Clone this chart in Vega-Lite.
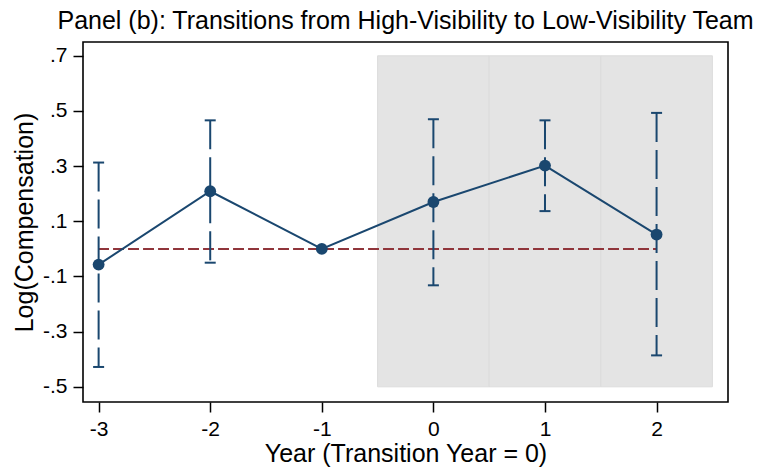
{
  "$schema": "https://vega.github.io/schema/vega-lite/v6.json",
  "width": 645,
  "height": 360,
  "autosize": {"type": "none"},
  "padding": {"left": 83, "top": 42, "right": 31, "bottom": 68},
  "background": "white",
  "title": {
    "text": "Panel (b): Transitions from High-Visibility to Low-Visibility Team",
    "font": "Liberation Sans",
    "fontSize": 25,
    "fontWeight": "normal",
    "color": "black",
    "anchor": "middle",
    "offset": 8
  },
  "config": {
    "view": {"stroke": "black", "strokeWidth": 1.6},
    "axis": {
      "labelFont": "Liberation Sans",
      "titleFont": "Liberation Sans",
      "labelFontSize": 21,
      "titleFontSize": 25,
      "titleFontWeight": "normal",
      "labelColor": "black",
      "titleColor": "black",
      "tickColor": "black",
      "tickWidth": 1.5,
      "tickSize": 10,
      "grid": false,
      "domain": false
    }
  },
  "datasets": {
    "est": [
      {"year": -3, "b": -0.057, "lo": -0.428, "hi": 0.313},
      {"year": -2, "b": 0.209, "lo": -0.050, "hi": 0.466},
      {"year": -1, "b": 0.0, "lo": null, "hi": null},
      {"year": 0, "b": 0.170, "lo": -0.132, "hi": 0.470},
      {"year": 1, "b": 0.302, "lo": 0.137, "hi": 0.466},
      {"year": 2, "b": 0.052, "lo": -0.386, "hi": 0.493}
    ],
    "bands": [
      {"start": -0.5, "end": 0.5},
      {"start": 0.5, "end": 1.5},
      {"start": 1.5, "end": 2.5}
    ]
  },
  "layer": [
    {
      "data": {"name": "bands"},
      "mark": {"type": "rect", "fill": "#e4e4e4", "stroke": "#dcdcdc", "strokeWidth": 1},
      "encoding": {
        "x": {"field": "start", "type": "quantitative",
          "scale": {"domain": [-3.14, 2.64], "nice": false, "zero": false},
          "axis": {"values": [-3, -2, -1, 0, 1, 2], "labelExpr": "toString(datum.value)", "title": "Year (Transition Year = 0)", "labelPadding": 6, "titlePadding": 2}},
        "x2": {"field": "end"},
        "y": {"datum": -0.5, "type": "quantitative",
          "scale": {"domain": [-0.555, 0.75], "nice": false, "zero": false},
          "axis": {"values": [-0.5, -0.3, -0.1, 0.1, 0.3, 0.5, 0.7],
            "labelExpr": "replace(toString(datum.value), '0.', '.')",
            "title": "Log(Compensation)", "labelPadding": 6, "titlePadding": 5}},
        "y2": {"datum": 0.7}
      }
    },
    {
      "data": {"name": "est"},
      "mark": {"type": "rule", "color": "#90353b", "strokeWidth": 2, "strokeDash": [10, 5]},
      "encoding": {
        "x": {"datum": -3, "type": "quantitative"},
        "x2": {"datum": 2},
        "y": {"datum": 0, "type": "quantitative"}
      }
    },
    {
      "data": {"name": "est"},
      "transform": [{"filter": "isValid(datum.lo)"}],
      "mark": {"type": "rule", "color": "#1a476f", "strokeWidth": 2, "strokeDash": [29, 8]},
      "encoding": {
        "x": {"field": "year", "type": "quantitative"},
        "y": {"field": "hi", "type": "quantitative"},
        "y2": {"field": "lo"}
      }
    },
    {
      "data": {"name": "est"},
      "transform": [{"filter": "isValid(datum.lo)"}],
      "mark": {"type": "tick", "orient": "horizontal", "color": "#1a476f", "size": 11, "thickness": 2, "opacity": 1},
      "encoding": {
        "x": {"field": "year", "type": "quantitative"},
        "y": {"field": "hi", "type": "quantitative"}
      }
    },
    {
      "data": {"name": "est"},
      "transform": [{"filter": "isValid(datum.lo)"}],
      "mark": {"type": "tick", "orient": "horizontal", "color": "#1a476f", "size": 11, "thickness": 2, "opacity": 1},
      "encoding": {
        "x": {"field": "year", "type": "quantitative"},
        "y": {"field": "lo", "type": "quantitative"}
      }
    },
    {
      "data": {"name": "est"},
      "mark": {"type": "line", "color": "#1a476f", "strokeWidth": 2},
      "encoding": {
        "x": {"field": "year", "type": "quantitative"},
        "y": {"field": "b", "type": "quantitative"}
      }
    },
    {
      "data": {"name": "est"},
      "mark": {"type": "point", "filled": true, "color": "#1a476f", "size": 140, "opacity": 1},
      "encoding": {
        "x": {"field": "year", "type": "quantitative"},
        "y": {"field": "b", "type": "quantitative"}
      }
    }
  ]
}
